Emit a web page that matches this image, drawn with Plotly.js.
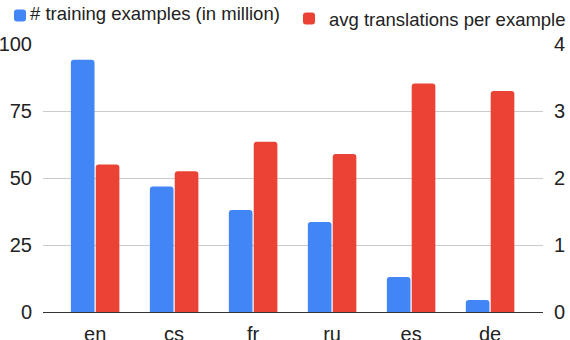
<!DOCTYPE html>
<html>
<head>
<meta charset="utf-8">
<script src="https://cdn.plot.ly/plotly-3.0.1.min.js"></script>
<style>html,body{margin:0;padding:0;background:#fff;}#chart{width:570px;height:340px;}</style>
</head>
<body>
<div id="chart"></div>
<script>
var categories = ["en", "cs", "fr", "ru", "es", "de"];
var trainingExamples = [94.1, 46.8, 38.1, 33.6, 13.1, 4.5];
var avgTranslations = [2.20, 2.10, 2.54, 2.36, 3.41, 3.30];
var leftTicks = [0, 25, 50, 75, 100];
var rightTicks = [0, 1, 2, 3, 4];
var seriesNames = ["# training examples (in million)", "avg translations per example"];

var FONT = "Arial, 'Liberation Sans', sans-serif";
var data = [
  {type: "bar", x: categories, y: trainingExamples, name: seriesNames[0],
   marker: {color: "#4285F4", cornerradius: 3}, yaxis: "y", offsetgroup: "a",
   legend: "legend"},
  {type: "bar", x: categories, y: avgTranslations, name: seriesNames[1],
   marker: {color: "#EA4335", cornerradius: 3}, yaxis: "y2", offsetgroup: "b",
   legend: "legend2"}
];

var legendBase = {orientation: "h", xref: "container", yref: "container", y: 1,
                  xanchor: "left", yanchor: "top",
                  font: {family: FONT, size: 18.5, color: "#222"},
                  bgcolor: "rgba(0,0,0,0)"};

var layout = {
  width: 570, height: 340,
  margin: {l: 43, r: 27, t: 44, b: 28, autoexpand: false},
  paper_bgcolor: "#fff", plot_bgcolor: "#fff",
  font: {family: FONT, size: 18.5, color: "#222"},
  barmode: "group", bargap: 0.37, bargroupgap: 0.05,
  showlegend: true,
  legend: Object.assign({}, legendBase, {x: -10 / 570}),
  legend2: Object.assign({}, legendBase, {x: 289 / 570}),
  xaxis: {range: [-0.66, 5.67], showline: true, linecolor: "#333", linewidth: 1,
          ticks: "", showgrid: false, tickfont: {size: 20, color: "#222"},
          ticklabelstandoff: 4, fixedrange: true},
  yaxis: {range: [0, 100], tickvals: leftTicks, ticktext: leftTicks.map(String),
          showgrid: true, gridcolor: "#ccc", gridwidth: 1, zeroline: false,
          ticks: "", ticklabelstandoff: 10, tickfont: {size: 20, color: "#222"}},
  yaxis2: {range: [0, 4], tickvals: rightTicks, ticktext: rightTicks.map(String),
           overlaying: "y", side: "right", showgrid: false, zeroline: false,
           ticks: "", ticklabelstandoff: 10, tickfont: {size: 20, color: "#222"}}
};
Plotly.newPlot("chart", data, layout, {staticPlot: true, displayModeBar: false}).then(function (gd) {
  // tighten the gap between legend swatch and label and lift the labels, as in the reference
  var dx = [-10, -8];
  gd.querySelectorAll(".legend").forEach(function (lg, i) {
    var tr = lg.getAttribute("transform") || "";
    lg.setAttribute("transform", tr + " translate(0,-3)");
    lg.querySelectorAll(".legendtext").forEach(function (t) {
      var x = parseFloat(t.getAttribute("x")) || 0;
      var y = parseFloat(t.getAttribute("y")) || 0;
      t.setAttribute("x", x + (dx[i] !== undefined ? dx[i] : -10));
      t.setAttribute("y", y - 3);
    });
  });
});
</script>
</body>
</html>
